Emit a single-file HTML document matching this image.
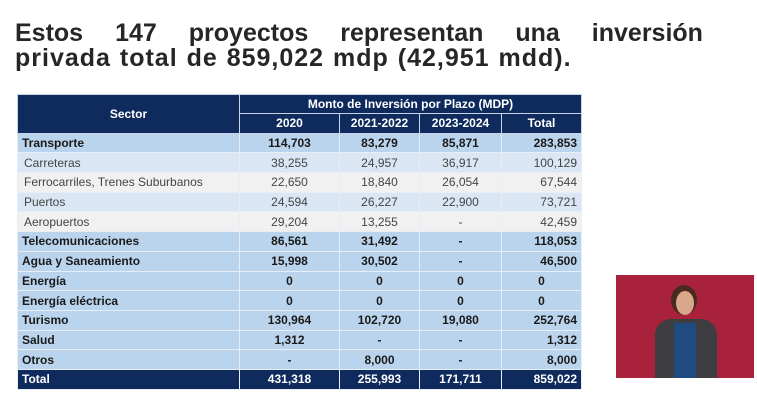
<!DOCTYPE html>
<html><head><meta charset="utf-8"><style>
*{margin:0;padding:0;box-sizing:border-box}
body{width:757px;height:413px;background:#fff;position:relative;overflow:hidden;font-family:"Liberation Sans",sans-serif}
.t1{position:absolute;left:15px;top:19px;width:688px;display:flex;justify-content:space-between;font-size:25px;color:#262626;font-weight:bold}
.t2{position:absolute;left:15px;top:44px;font-size:25px;color:#262626;font-weight:bold;letter-spacing:1px;word-spacing:1px}
table{position:absolute;left:17px;top:94px;border-collapse:collapse;font-size:12px;color:#1a1a1a}
td,th{height:19.7px;padding:0 4px;border:1px solid #e8eef6;white-space:nowrap}
th{background:#0f2b5e;color:#fff;font-weight:bold;font-size:12px;border:1px solid #c8d4e6}
td.n{text-align:center}
td.r{text-align:right}
tr.b td{background:#bad4ee;font-weight:bold}
tr.l td{background:#dae6f4;color:#444}
tr.w td{background:#f1f1f1;color:#444}
tr.l td:first-child,tr.w td:first-child{padding-left:6px}
tr.tot td{background:#0f2b5e;color:#fff;font-weight:bold}
</style></head><body>
<div class="t1"><span>Estos</span><span>147</span><span>proyectos</span><span>representan</span><span>una</span><span>inversión</span></div>
<div class="t2">privada total de 859,022 mdp (42,951 mdd).</div>
<table>
<colgroup><col style="width:222px"><col style="width:100px"><col style="width:80px"><col style="width:82px"><col style="width:80px"></colgroup>
<tr><th rowspan="2" style="height:38px">Sector</th><th colspan="4" style="height:19px">Monto de Inversión por Plazo (MDP)</th></tr>
<tr><th style="height:19px">2020</th><th>2021-2022</th><th>2023-2024</th><th>Total</th></tr>
<tr class="b"><td>Transporte</td><td class="n">114,703</td><td class="n">83,279</td><td class="n">85,871</td><td class="r">283,853</td></tr>
<tr class="l"><td>Carreteras</td><td class="n">38,255</td><td class="n">24,957</td><td class="n">36,917</td><td class="r">100,129</td></tr>
<tr class="w"><td>Ferrocarriles, Trenes Suburbanos</td><td class="n">22,650</td><td class="n">18,840</td><td class="n">26,054</td><td class="r">67,544</td></tr>
<tr class="l"><td>Puertos</td><td class="n">24,594</td><td class="n">26,227</td><td class="n">22,900</td><td class="r">73,721</td></tr>
<tr class="w"><td>Aeropuertos</td><td class="n">29,204</td><td class="n">13,255</td><td class="n">-</td><td class="r">42,459</td></tr>
<tr class="b"><td>Telecomunicaciones</td><td class="n">86,561</td><td class="n">31,492</td><td class="n">-</td><td class="r">118,053</td></tr>
<tr class="b"><td>Agua y Saneamiento</td><td class="n">15,998</td><td class="n">30,502</td><td class="n">-</td><td class="r">46,500</td></tr>
<tr class="b"><td>Energía</td><td class="n">0</td><td class="n">0</td><td class="n">0</td><td class="n">0</td></tr>
<tr class="b"><td>Energía eléctrica</td><td class="n">0</td><td class="n">0</td><td class="n">0</td><td class="n">0</td></tr>
<tr class="b"><td>Turismo</td><td class="n">130,964</td><td class="n">102,720</td><td class="n">19,080</td><td class="r">252,764</td></tr>
<tr class="b"><td>Salud</td><td class="n">1,312</td><td class="n">-</td><td class="n">-</td><td class="r">1,312</td></tr>
<tr class="b"><td>Otros</td><td class="n">-</td><td class="n">8,000</td><td class="n">-</td><td class="r">8,000</td></tr>
<tr class="tot"><td>Total</td><td class="n">431,318</td><td class="n">255,993</td><td class="n">171,711</td><td class="r">859,022</td></tr>
</table>
<div style="position:absolute;left:616px;top:275px;width:138px;height:103px;background:#a9223c">
<div style="position:absolute;left:55px;top:10px;width:26px;height:30px;border-radius:50%;background:#4a2a20"></div>
<div style="position:absolute;left:60px;top:16px;width:18px;height:24px;border-radius:50%;background:#d9a88a"></div>
<div style="position:absolute;left:39px;top:44px;width:62px;height:59px;border-radius:16px 16px 0 0;background:#3d3d42"></div>
<div style="position:absolute;left:58px;top:48px;width:22px;height:55px;background:#1f4b80"></div>
</div>
</body></html>
